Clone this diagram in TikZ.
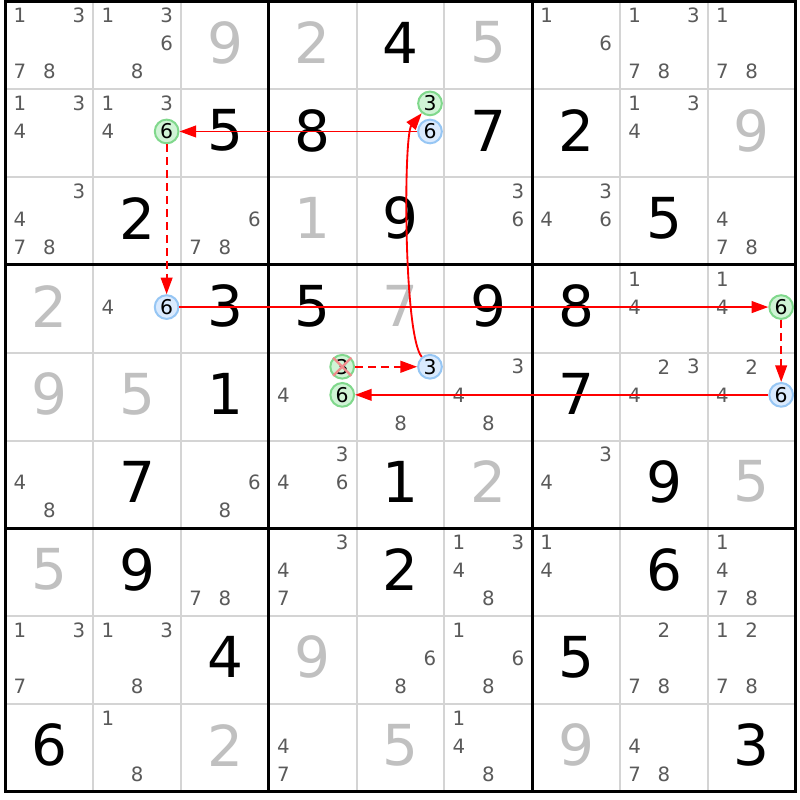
\documentclass[tikz,border=0pt]{standalone}
\usepackage{fontspec}
\setmainfont{DejaVu Sans}
\usetikzlibrary{shapes.geometric, arrows.meta}
\newcommand\candgapx{0.335}
\newcommand\candgapy{0.32}
\definecolor{givengray}{RGB}{192,192,192}
\definecolor{candgray}{RGB}{90,90,90}
\definecolor{gridgray}{RGB}{212,212,212}
\definecolor{onborder}{RGB}{128,216,140}
\definecolor{onfill}{RGB}{208,244,214}
\definecolor{offborder}{RGB}{150,198,244}
\definecolor{offfill}{RGB}{218,234,254}
\definecolor{linkred}{RGB}{255,0,0}
\definecolor{crossred}{RGB}{240,140,140}
\tikzstyle{given} = [inner sep=0pt, text=givengray, font=\fontsize{18.3}{18.3}\selectfont]
\tikzstyle{solved} = [given, text=black]
\tikzstyle{cand} = [inner sep=0pt, text=candgray, font=\fontsize{6.4}{6.6}\selectfont]
\tikzstyle{onmark} = [circle, draw=onborder, fill=onfill, line width=0.65pt, minimum size=0.27cm, inner sep=0pt, text=black, font=\fontsize{6.6}{6.8}\selectfont]
\tikzstyle{offmark} = [onmark, draw=offborder, fill=offfill]
\tikzstyle{thinline} = [gridgray, line width=0.65pt]
\tikzstyle{thickline} = [black, line width=1pt, line cap=rect]
\tikzstyle{strongarrow} = [linkred, line width=0.6pt, -{Triangle[length=5.4pt, width=3.8pt]}]
\tikzstyle{weakarrow} = [strongarrow, dash pattern=on 2.6pt off 1.6pt]
\tikzstyle{strikemark} = [crossred, line width=0.75pt]
\newcommand\givendigit[3]{\node (r#1c#2) [given] at (#2-0.5, 0.53-#1) {#3};}
\newcommand\solveddigit[3]{\node (r#1c#2) [solved] at (#2-0.5, 0.53-#1) {#3};}
\newcommand\cand[4][cand]{\node (r#2c#3n#4) [#1] at ({#3-0.5+\candgapx*(mod(#4-1,3)-1)}, {0.52-#2-\candgapy*(int((#4-1)/3)-1)}) {#4};}
\newcommand\cands[3]{\foreach \d in {#3} {\cand{#1}{#2}{\d}}}

\begin{document}
\begin{tikzpicture}

            \fill [white] (-0.063,-9.095) rectangle (9.049,0.017);
            \foreach \i in {1,2,4,5,7,8} {
                \draw [thinline] (\i,0) -- (\i,-9);
                \draw [thinline] (0,-\i) -- (9,-\i);
            }
            \foreach \i in {3,6} {
                \draw [thickline] (\i,0) -- (\i,-9);
                \draw [thickline] (0,-\i) -- (9,-\i);
            }
            \draw [thickline] (0,0) rectangle (9,-9);

            \cands{1}{1}{1,3,7,8}
            \cands{1}{2}{1,3,6,8}
            \givendigit{1}{3}{9}
            \givendigit{1}{4}{2}
            \solveddigit{1}{5}{4}
            \givendigit{1}{6}{5}
            \cands{1}{7}{1,6}
            \cands{1}{8}{1,3,7,8}
            \cands{1}{9}{1,7,8}

            \cands{2}{1}{1,3,4}
            \cands{2}{2}{1,3,4}
            \cand[onmark]{2}{2}{6}
            \solveddigit{2}{3}{5}
            \solveddigit{2}{4}{8}
            \cand[onmark]{2}{5}{3}
            \cand[offmark]{2}{5}{6}
            \solveddigit{2}{6}{7}
            \solveddigit{2}{7}{2}
            \cands{2}{8}{1,3,4}
            \givendigit{2}{9}{9}

            \cands{3}{1}{3,4,7,8}
            \solveddigit{3}{2}{2}
            \cands{3}{3}{6,7,8}
            \givendigit{3}{4}{1}
            \solveddigit{3}{5}{9}
            \cands{3}{6}{3,6}
            \cands{3}{7}{3,4,6}
            \solveddigit{3}{8}{5}
            \cands{3}{9}{4,7,8}

            \givendigit{4}{1}{2}
            \cands{4}{2}{4}
            \cand[offmark]{4}{2}{6}
            \solveddigit{4}{3}{3}
            \solveddigit{4}{4}{5}
            \givendigit{4}{5}{7}
            \solveddigit{4}{6}{9}
            \solveddigit{4}{7}{8}
            \cands{4}{8}{1,4}
            \cands{4}{9}{1,4}
            \cand[onmark]{4}{9}{6}

            \givendigit{5}{1}{9}
            \givendigit{5}{2}{5}
            \solveddigit{5}{3}{1}
            \cands{5}{4}{4}
            \cand[onmark]{5}{4}{3}
            \cand[onmark]{5}{4}{6}
            \cands{5}{5}{8}
            \cand[offmark]{5}{5}{3}
            \cands{5}{6}{3,4,8}
            \solveddigit{5}{7}{7}
            \cands{5}{8}{2,3,4}
            \cands{5}{9}{2,4}
            \cand[offmark]{5}{9}{6}

            \cands{6}{1}{4,8}
            \solveddigit{6}{2}{7}
            \cands{6}{3}{6,8}
            \cands{6}{4}{3,4,6}
            \solveddigit{6}{5}{1}
            \givendigit{6}{6}{2}
            \cands{6}{7}{3,4}
            \solveddigit{6}{8}{9}
            \givendigit{6}{9}{5}

            \givendigit{7}{1}{5}
            \solveddigit{7}{2}{9}
            \cands{7}{3}{7,8}
            \cands{7}{4}{3,4,7}
            \solveddigit{7}{5}{2}
            \cands{7}{6}{1,3,4,8}
            \cands{7}{7}{1,4}
            \solveddigit{7}{8}{6}
            \cands{7}{9}{1,4,7,8}

            \cands{8}{1}{1,3,7}
            \cands{8}{2}{1,3,8}
            \solveddigit{8}{3}{4}
            \givendigit{8}{4}{9}
            \cands{8}{5}{6,8}
            \cands{8}{6}{1,6,8}
            \solveddigit{8}{7}{5}
            \cands{8}{8}{2,7,8}
            \cands{8}{9}{1,2,7,8}

            \solveddigit{9}{1}{6}
            \cands{9}{2}{1,8}
            \givendigit{9}{3}{2}
            \cands{9}{4}{4,7}
            \givendigit{9}{5}{5}
            \cands{9}{6}{1,4,8}
            \givendigit{9}{7}{9}
            \cands{9}{8}{4,7,8}
            \solveddigit{9}{9}{3}

            \draw [strongarrow] (r2c5n6) -- (r2c2n6);
            \draw [weakarrow] (r2c2n6) -- (r4c2n6);
            \draw [strongarrow] (r4c2n6) -- (r4c9n6);
            \draw [weakarrow] (r4c9n6) -- (r5c9n6);
            \draw [strongarrow] (r5c9n6) -- (r5c4n6);
            \draw [weakarrow] (r5c4n3) -- (r5c5n3);
            \draw [strongarrow] (r5c5n3) to[out=130, in=-130, looseness=0.3] (r2c5n3);

            \draw [strikemark] (r5c4n3.north west) -- (r5c4n3.south east);
            \draw [strikemark] (r5c4n3.north east) -- (r5c4n3.south west);

        \end{tikzpicture}
\end{document}
